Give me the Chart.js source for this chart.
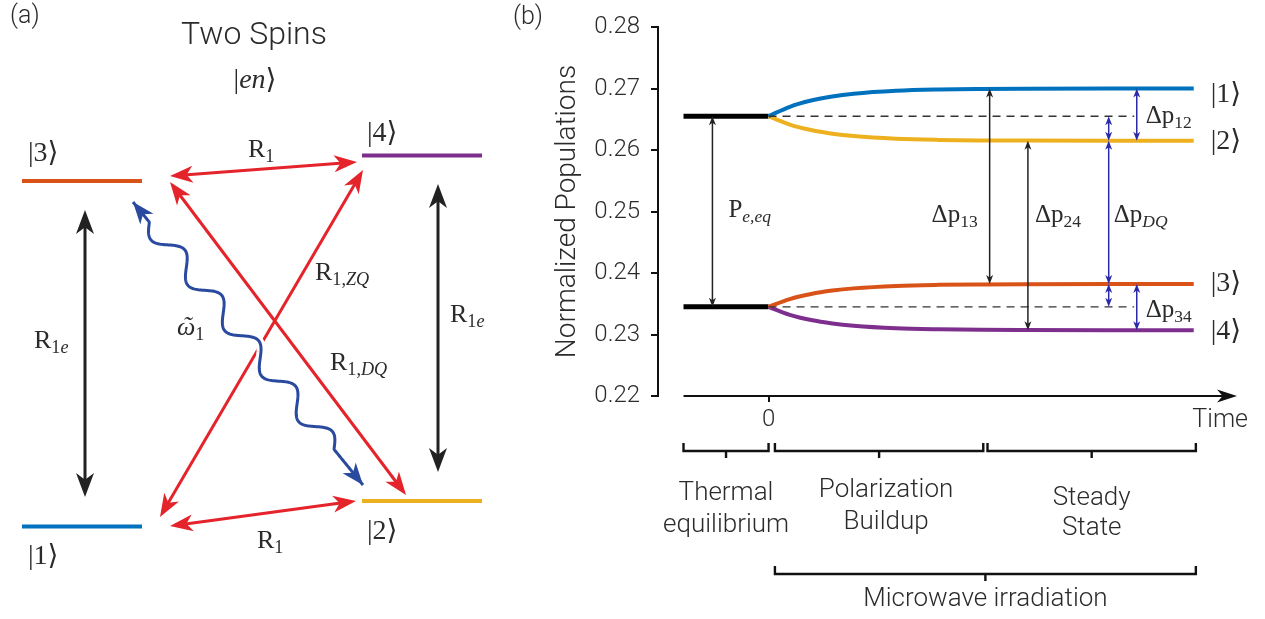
<!DOCTYPE html>
<html>
<head>
<meta charset="utf-8">
<script src="https://cdn.jsdelivr.net/npm/chart.js@4.4.1/dist/chart.umd.min.js"></script>
<style>
  html, body { margin: 0; padding: 0; background: #fff; }
  #wrap { position: relative; width: 1265px; height: 619px; overflow: hidden; }
  canvas { position: absolute; top: 0; }
  #levels { left: 0; }
  #pops { left: 510px; }
</style>
</head>
<body>
<div id="wrap">
  <canvas id="levels" width="510" height="619"></canvas>
  <canvas id="pops" width="755" height="619"></canvas>
</div>
<script>
// ---------------- Panel (b): population dynamics ----------------
const timePoints = [0, 0.5, 1, 1.5, 2, 3, 4, 5, 6, 8, 10];
const pop1 = [0.2655, 0.26703, 0.26804, 0.26871, 0.26915, 0.26963, 0.26984, 0.26993, 0.26997, 0.2700, 0.2700];
const pop2 = [0.2655, 0.26414, 0.26324, 0.26265, 0.26226, 0.26183, 0.26164, 0.26156, 0.26153, 0.2615, 0.2615];
const pop3 = [0.2345, 0.23576, 0.23659, 0.23714, 0.23750, 0.23790, 0.23807, 0.23814, 0.23818, 0.2382, 0.2382];
const pop4 = [0.2345, 0.23320, 0.23235, 0.23179, 0.23142, 0.23101, 0.23084, 0.23076, 0.23073, 0.2307, 0.2307];
const eqTime = [-2, 0];
const eqHigh = 0.2655;
const eqLow = 0.2345;
const dashEnd = 8.6;
const yTicks = [0.22, 0.23, 0.24, 0.25, 0.26, 0.27, 0.28];
const stateNames = ['|1⟩', '|2⟩', '|3⟩', '|4⟩'];

// ---------------- Panel (a): energy levels ----------------
const levelEnergy = [9.25, 11.8, 43.8, 46.35];   // |1>, |2>, |3>, |4>

const SANS = "Roboto, 'Liberation Sans', Arial, sans-serif";
const SERIF = "'Liberation Serif', 'DejaVu Serif', 'DejaVu Sans', serif";
const INK = '#2b2b2b';
const C = { s1: '#0072bd', s2: '#edb120', s3: '#d95319', s4: '#7e2f8e',
            red: '#e4232b', wave: '#2a4aa0', dq: '#2a2aa8' };

// text with subscripts: parts = [[text, style, accent]], style r / i / sr / si
function mathText(ctx, x, y, parts, size, align, color) {
  const segs = parts.map(([t, s, acc]) => {
    const sub = s[0] === 's';
    const it = s[s.length - 1] === 'i';
    const fs = sub ? size * 0.7 : size;
    const font = (it ? 'italic ' : '') + fs + 'px ' + SERIF;
    ctx.font = font;
    return { t, font, acc, w: ctx.measureText(t).width, dy: sub ? size * 0.2 : 0 };
  });
  const total = segs.reduce((a, s) => a + s.w, 0);
  let cx = align === 'center' ? x - total / 2 : align === 'right' ? x - total : x;
  ctx.save();
  ctx.fillStyle = color || INK;
  ctx.textBaseline = 'alphabetic';
  segs.forEach(s => {
    ctx.font = s.font;
    ctx.textAlign = 'left';
    ctx.fillText(s.t, cx, y + s.dy);
    if (s.acc) {
      ctx.textAlign = 'center';
      ctx.fillText(s.acc, cx + s.w / 2 + 1, y + s.dy - 1);
    }
    cx += s.w;
  });
  ctx.restore();
}

function sansText(ctx, text, x, y, size, align) {
  ctx.save();
  ctx.font = '300 ' + size + 'px ' + SANS;
  ctx.fillStyle = INK;
  ctx.textAlign = align || 'center';
  ctx.textBaseline = 'alphabetic';
  ctx.fillText(text, x, y);
  ctx.restore();
}

function head(ctx, x, y, ang, len, wid, color) {
  ctx.save();
  ctx.translate(x, y);
  ctx.rotate(ang);
  ctx.beginPath();
  ctx.moveTo(0, 0);
  ctx.lineTo(-len, wid / 2);
  ctx.lineTo(-len * 0.72, 0);
  ctx.lineTo(-len, -wid / 2);
  ctx.closePath();
  ctx.fillStyle = color;
  ctx.fill();
  ctx.restore();
}

function dblArrow(ctx, x1, y1, x2, y2, color, lw, len, wid) {
  const ang = Math.atan2(y2 - y1, x2 - x1);
  const c = Math.cos(ang), s = Math.sin(ang), inset = len * 0.6;
  ctx.save();
  ctx.beginPath();
  ctx.moveTo(x1 + c * inset, y1 + s * inset);
  ctx.lineTo(x2 - c * inset, y2 - s * inset);
  ctx.strokeStyle = color;
  ctx.lineWidth = lw;
  ctx.stroke();
  ctx.restore();
  head(ctx, x2, y2, ang, len, wid, color);
  head(ctx, x1, y1, ang + Math.PI, len, wid, color);
}

// wavy double arrow for the microwave drive
function wavyArrow(ctx, x1, y1, x2, y2, amp, periods, lead1, lead2, color) {
  const dx = x2 - x1, dy = y2 - y1, L = Math.hypot(dx, dy);
  const ux = dx / L, uy = dy / L, nx = -uy, ny = ux;
  const span = L - lead1 - lead2;
  const pts = [];
  for (let i = 0; i <= 400; i++) {
    const s = (i / 400) * L;
    let off = 0;
    if (s > lead1 && s < L - lead2) off = amp * Math.sin(2 * Math.PI * periods * (s - lead1) / span);
    pts.push([x1 + ux * s + nx * off, y1 + uy * s + ny * off]);
  }
  const path = () => { ctx.beginPath(); pts.forEach((p, i) => i ? ctx.lineTo(p[0], p[1]) : ctx.moveTo(p[0], p[1])); };
  ctx.save();
  ctx.lineJoin = 'round';
  path(); ctx.strokeStyle = '#fff'; ctx.lineWidth = 9; ctx.stroke();
  path(); ctx.strokeStyle = color; ctx.lineWidth = 3; ctx.stroke();
  ctx.restore();
  const a = Math.atan2(pts[0][1] - pts[8][1], pts[0][0] - pts[8][0]);
  const b = Math.atan2(pts[400][1] - pts[392][1], pts[400][0] - pts[392][0]);
  head(ctx, pts[0][0], pts[0][1], a, 22, 17, color);
  head(ctx, pts[400][0], pts[400][1], b, 22, 17, color);
}

// ---------------- chart (a) ----------------
const leftCol = [2.2, 14.2], rightCol = [36.2, 48.2];
const levelCols = [leftCol, rightCol, leftCol, rightCol];
const levelColors = [C.s1, C.s2, C.s3, C.s4];

const diagramPlugin = {
  id: 'diagram',
  afterDatasetsDraw(chart) {
    const { ctx, scales: { x, y } } = chart;
    const P = (u, v) => [x.getPixelForValue(u), y.getPixelForValue(v)];
    // relaxation pathways
    const red = [
      [17.0, 44.3, 35.7, 45.7],   // R1 (|3> - |4>)
      [17.0, 9.3, 35.6, 11.8],    // R1 (|1> - |2>)
      [17.0, 43.7, 40.6, 12.4]    // R1,DQ (|3> - |2>)
    ];
    const zq = [16.0, 10.2, 36.3, 44.9]; // R1,ZQ (|1> - |4>)
    [...red, zq].forEach(r => {
      const a = P(r[0], r[1]), b = P(r[2], r[3]);
      dblArrow(ctx, a[0], a[1], b[0], b[1], C.red, 3, 23, 17);
    });
    // microwave drive (|3> - |2>)
    const w1 = P(13.3, 41.7), w2 = P(36.3, 13.4);
    wavyArrow(ctx, w1[0], w1[1], w2[0], w2[1], 10, 5, 26, 46, C.wave);
    // electron relaxation
    const e1 = [P(8.5, 12.2), P(8.5, 40.9)];
    const e2 = [P(43.8, 14.7), P(43.8, 43.5)];
    [e1, e2].forEach(e => dblArrow(ctx, e[0][0], e[0][1], e[1][0], e[1][1], '#222', 3, 24, 18));

    // labels
    sansText(ctx, '(a)', 10, 23, 25, 'left');
    sansText(ctx, 'Two Spins', 254, 44, 32, 'center');
    mathText(ctx, 255, 88, [['|', 'r'], ['en', 'i'], ['⟩', 'r']], 28, 'center');
    const kets = [[28, 564], [367, 539], [28, 161], [367, 141]];
    kets.forEach((k, i) => mathText(ctx, k[0], k[1], [[stateNames[i], 'r']], 28, 'left'));
    mathText(ctx, 248, 157, [['R', 'r'], ['1', 'sr']], 26, 'left');
    mathText(ctx, 257, 548, [['R', 'r'], ['1', 'sr']], 26, 'left');
    mathText(ctx, 315, 280, [['R', 'r'], ['1,', 'sr'], ['ZQ', 'si']], 26, 'left');
    mathText(ctx, 330, 370, [['R', 'r'], ['1,', 'sr'], ['DQ', 'si']], 26, 'left');
    mathText(ctx, 34, 348, [['R', 'r'], ['1', 'sr'], ['e', 'si']], 26, 'left');
    mathText(ctx, 450, 322, [['R', 'r'], ['1', 'sr'], ['e', 'si']], 26, 'left');
    mathText(ctx, 177, 335, [['ω', 'i', '˜'], ['1', 'sr']], 26, 'left');
  }
};

new Chart(document.getElementById('levels'), {
  type: 'line',
  data: {
    datasets: levelEnergy.map((E, i) => ({
      data: [{ x: levelCols[i][0], y: E }, { x: levelCols[i][1], y: E }],
      borderColor: levelColors[i], borderWidth: 4, pointRadius: 0, borderCapStyle: 'butt'
    }))
  },
  options: {
    responsive: false, animation: false, events: [],
    layout: { padding: 0 },
    plugins: { legend: { display: false }, tooltip: { enabled: false } },
    scales: {
      x: { type: 'linear', min: 0, max: 51, display: false },
      y: { type: 'linear', min: 0, max: 61.9, display: false }
    }
  },
  plugins: [diagramPlugin]
});

// ---------------- chart (b) ----------------
const series = (vals) => timePoints.map((t, i) => ({ x: t, y: vals[i] }));
const curve = (vals, color) => ({
  data: series(vals), borderColor: color, borderWidth: 4, pointRadius: 0,
  cubicInterpolationMode: 'monotone', borderCapStyle: 'butt'
});
const flat = (x0, x1, v, color, w, dash) => ({
  data: [{ x: x0, y: v }, { x: x1, y: v }], borderColor: color, borderWidth: w,
  borderDash: dash || [], pointRadius: 0, borderCapStyle: 'butt'
});

const annotatePlugin = {
  id: 'annotate',
  afterDatasetsDraw(chart) {
    const { ctx, scales: { x, y } } = chart;
    const X = v => x.getPixelForValue(v), Y = v => y.getPixelForValue(v);
    const yAxis = Y(0.22);
    const last = a => a[a.length - 1];

    // time axis arrow
    const tip = X(10.9) + 5;
    ctx.save();
    ctx.strokeStyle = '#111'; ctx.lineWidth = 2.2;
    ctx.beginPath(); ctx.moveTo(X(-2), yAxis); ctx.lineTo(tip - 10, yAxis); ctx.stroke();
    ctx.restore();
    head(ctx, tip, yAxis, 0, 20, 13, '#111');
    sansText(ctx, 'Time', tip + 11, yAxis + 31, 25, 'right');

    // population difference arrows
    const small = (t, a, b, color) => dblArrow(ctx, X(t), Y(a), X(t), Y(b), color, 1.5, 9, 7);
    small(-1.32, eqLow, eqHigh, '#222');
    small(5.2, last(pop1), last(pop3), '#222');
    small(6.1, last(pop2), last(pop4), '#222');
    small(8.0, last(pop2), last(pop3), C.dq);
    small(8.0, eqHigh, last(pop2), C.dq);
    small(8.0, last(pop3), eqLow, C.dq);
    small(8.66, last(pop1), last(pop2), C.dq);
    small(8.66, last(pop3), last(pop4), C.dq);

    const mid = Y(0.25);
    mathText(ctx, X(-1.32) + 16, mid + 5, [['P', 'r'], ['e,eq', 'si']], 25, 'left');
    mathText(ctx, X(5.2) - 12, mid + 10, [['Δp', 'r'], ['13', 'sr']], 25, 'right');
    mathText(ctx, X(6.1) + 7, mid + 10, [['Δp', 'r'], ['24', 'sr']], 25, 'left');
    mathText(ctx, X(8.0) + 5, mid + 10, [['Δp', 'r'], ['DQ', 'si']], 25, 'left');
    mathText(ctx, X(8.66) + 9, Y(eqHigh) + 7, [['Δp', 'r'], ['12', 'sr']], 25, 'left');
    mathText(ctx, X(8.66) + 9, Y(eqLow) + 10, [['Δp', 'r'], ['34', 'sr']], 25, 'left');

    // state labels at the right end of each curve
    const ends = [last(pop1), last(pop2), last(pop3), last(pop4)];
    const nudge = [13, 8, 7, 9];
    ends.forEach((v, i) => mathText(ctx, X(10) + 17, Y(v) + nudge[i], [[stateNames[i], 'r']], 28, 'left'));

    // stage brackets below the time axis
    const bracket = (t0, t1, yy, up, tick) => {
      const xm = (X(t0) + X(t1)) / 2;
      ctx.save();
      ctx.strokeStyle = '#111'; ctx.lineWidth = 2.4; ctx.lineCap = 'butt';
      ctx.beginPath();
      ctx.moveTo(X(t0), yy - up); ctx.lineTo(X(t0), yy); ctx.lineTo(X(t1), yy); ctx.lineTo(X(t1), yy - up);
      ctx.moveTo(xm, yy); ctx.lineTo(xm, yy + tick);
      ctx.stroke();
      ctx.restore();
      return xm;
    };
    const bY = 451;
    const m1 = bracket(-2, 0, bY, 8, 7);
    const m2 = bracket(0.15, 5.05, bY, 8, 7);
    const m3 = bracket(5.15, 10.05, bY, 8, 7);
    const m4 = bracket(0.15, 10.05, 574, 8, 7);
    sansText(ctx, 'Thermal', m1, 500, 26);
    sansText(ctx, 'equilibrium', m1, 532, 26);
    sansText(ctx, 'Polarization', m2 + 7, 497, 26);
    sansText(ctx, 'Buildup', m2 + 7, 529, 26);
    sansText(ctx, 'Steady', m3, 505, 26);
    sansText(ctx, 'State', m3, 535, 26);
    sansText(ctx, 'Microwave irradiation', m4, 606, 26);
    sansText(ctx, '(b)', 3, 24, 25, 'left');
  }
};

new Chart(document.getElementById('pops'), {
  type: 'line',
  data: {
    datasets: [
      flat(0, dashEnd, eqHigh, '#333', 1.4, [8, 6]),
      flat(0, dashEnd, eqLow, '#333', 1.4, [8, 6]),
      curve(pop1, C.s1),
      curve(pop2, C.s2),
      curve(pop3, C.s3),
      curve(pop4, C.s4),
      flat(eqTime[0], eqTime[1], eqHigh, '#000', 5),
      flat(eqTime[0], eqTime[1], eqLow, '#000', 5)
    ]
  },
  options: {
    responsive: false, animation: false, events: [],
    layout: { padding: { top: 27, right: 33, left: 0, bottom: 0 } },
    plugins: { legend: { display: false }, tooltip: { enabled: false } },
    scales: {
      x: {
        type: 'linear', min: -2.6, max: 10.9,
        afterBuildTicks: s => { s.ticks = [{ value: 0 }]; },
        afterFit: s => { s.height = 223; },
        border: { display: false },
        grid: { drawOnChartArea: false, tickLength: 6, color: '#111', lineWidth: 2 },
        ticks: { padding: 4, color: INK, font: { family: SANS, size: 24, weight: 300 }, callback: v => String(v) }
      },
      y: {
        type: 'linear', min: 0.22, max: 0.28,
        afterBuildTicks: s => { s.ticks = yTicks.map(v => ({ value: v })); },
        afterFit: s => { s.width = 148; },
        border: { display: true, color: '#111', width: 2 },
        grid: { drawOnChartArea: false, tickLength: 7, color: '#111', lineWidth: 2 },
        ticks: { padding: 11, color: INK, font: { family: SANS, size: 24, weight: 300 }, callback: v => v.toFixed(2) },
        title: { display: true, text: 'Normalized Populations', color: INK,
                 font: { family: SANS, size: 28, weight: 300 }, padding: { top: 41, bottom: 0 } }
      }
    }
  },
  plugins: [annotatePlugin]
});
</script>
</body>
</html>
